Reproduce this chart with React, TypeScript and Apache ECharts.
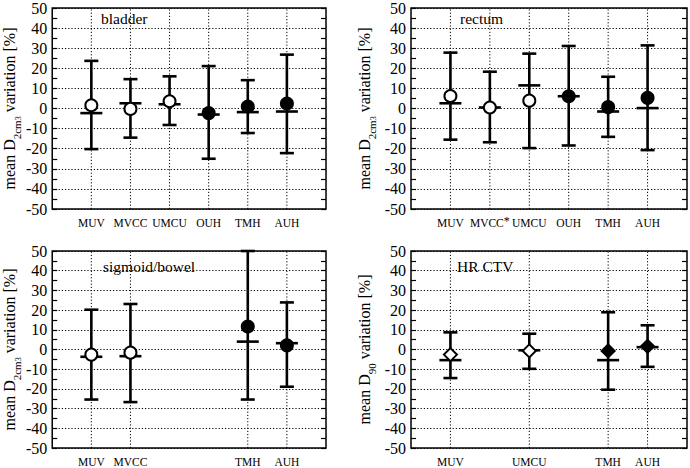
import React, { useEffect, useRef } from "react";
import * as echarts from "echarts";

// ---------- data ----------
const CENTRES = ["MUV", "MVCC", "UMCU", "OUH", "TMH", "AUH"];
const OPEN_CENTRES = ["MUV", "MVCC", "UMCU"];
const Y_MIN = -50;
const Y_MAX = 50;
const Y_STEP = 10;

// bladder (D2cm3)
const bladderCentres = ["MUV", "MVCC", "UMCU", "OUH", "TMH", "AUH"];
const bladderMean = [1.6, -0.2, 3.6, -2.3, 1.0, 2.5];
const bladderMedian = [-2.3, 2.6, 2.1, -3.0, -1.8, -1.5];
const bladderLow = [-20.2, -14.5, -8.2, -25.0, -12.2, -22.2];
const bladderHigh = [23.7, 14.6, 16.0, 21.1, 14.1, 26.8];

// rectum (D2cm3)
const rectumCentres = ["MUV", "MVCC", "UMCU", "OUH", "TMH", "AUH"];
const rectumMean = [6.2, 0.5, 3.9, 6.1, 0.7, 5.3];
const rectumMedian = [2.6, 0.5, 11.5, 6.1, -1.5, 0.2];
const rectumLow = [-15.5, -16.8, -19.7, -18.4, -14.1, -20.7];
const rectumHigh = [27.8, 18.3, 27.3, 31.1, 15.8, 31.4];

// sigmoid/bowel (D2cm3)
const sigmoidCentres = ["MUV", "MVCC", "TMH", "AUH"];
const sigmoidMean = [-2.6, -1.6, 11.7, 2.1];
const sigmoidMedian = [-3.7, -3.4, 4.0, 3.2];
const sigmoidLow = [-25.4, -26.7, -25.4, -18.9];
const sigmoidHigh = [20.2, 23.1, 50, 23.9];

// HR CTV (D90)
const ctvCentres = ["MUV", "UMCU", "TMH", "AUH"];
const ctvMean = [-2.6, -0.7, -0.7, 1.6];
const ctvMedian = [-5.4, -0.4, -5.4, 1.2];
const ctvLow = [-14.5, -9.8, -20.4, -8.8];
const ctvHigh = [8.7, 8.0, 18.9, 12.3];

const ASTERISK_CENTRES_RECTUM = ["MVCC"];

// ---------- style ----------
const FONT = '"Liberation Serif", "Times New Roman", serif';
const BLACK = "#000";

const NAME_D2CM3 = "{m|mean D}{sub|2cm}{sup|3}{m| variation [%]}";
const NAME_D90 = "{m|mean D}{sub|90}{m| variation [%]}";

type Panel = {
  title: string;
  centres: string[];
  mean: number[];
  median: number[];
  low: number[];
  high: number[];
  marker: "circle" | "diamond";
  yName: string;
  starred: string[];
  grid: { left: number; top: number; width: number; height: number };
  titlePos: { left: number; top: number };
  nameGap: number;
};

const panels: Panel[] = [
  {
    title: "bladder",
    centres: bladderCentres,
    mean: bladderMean,
    median: bladderMedian,
    low: bladderLow,
    high: bladderHigh,
    marker: "circle",
    yName: NAME_D2CM3,
    starred: [],
    grid: { left: 50, top: 7, width: 276, height: 202 },
    titlePos: { left: 101, top: 10 },
    nameGap: 30,
  },
  {
    title: "rectum",
    centres: rectumCentres,
    mean: rectumMean,
    median: rectumMedian,
    low: rectumLow,
    high: rectumHigh,
    marker: "circle",
    yName: NAME_D2CM3,
    starred: ASTERISK_CENTRES_RECTUM,
    grid: { left: 411, top: 7, width: 277, height: 202 },
    titlePos: { left: 460, top: 10 },
    nameGap: 34,
  },
  {
    title: "sigmoid/bowel",
    centres: sigmoidCentres,
    mean: sigmoidMean,
    median: sigmoidMedian,
    low: sigmoidLow,
    high: sigmoidHigh,
    marker: "circle",
    yName: NAME_D2CM3,
    starred: [],
    grid: { left: 50, top: 251, width: 276, height: 201 },
    titlePos: { left: 103, top: 258 },
    nameGap: 30,
  },
  {
    title: "HR CTV",
    centres: ctvCentres,
    mean: ctvMean,
    median: ctvMedian,
    low: ctvLow,
    high: ctvHigh,
    marker: "diamond",
    yName: NAME_D90,
    starred: [],
    grid: { left: 411, top: 251, width: 277, height: 201 },
    titlePos: { left: 457, top: 258 },
    nameGap: 34,
  },
];

function buildOption() {
  const grids: any[] = [];
  const xAxes: any[] = [];
  const yAxes: any[] = [];
  const series: any[] = [];
  const titles: any[] = [];

  panels.forEach((p, i) => {
    grids.push({
      ...p.grid,
      containLabel: false,
      show: true,
      borderColor: BLACK,
      borderWidth: 1.5,
      backgroundColor: "transparent",
    });
    titles.push({
      text: p.title,
      left: p.titlePos.left,
      top: p.titlePos.top,
      padding: 0,
      textStyle: { fontFamily: FONT, fontSize: 15.5, fontWeight: "normal", color: BLACK },
    });
    xAxes.push({
      type: "value",
      gridIndex: i,
      min: 0,
      max: CENTRES.length + 1,
      interval: 1,
      axisLine: { show: false },
      axisTick: { show: false },
      splitLine: { show: false },
      axisLabel: {
        margin: 6,
        fontFamily: FONT,
        fontSize: 11.5,
        color: BLACK,
        showMinLabel: true,
        showMaxLabel: true,
        formatter: (v: number) => {
          const name = CENTRES[v - 1];
          if (!name || p.centres.indexOf(name) < 0) return "";
          return p.starred.indexOf(name) >= 0 ? `{c|${name}}{star|*}` : `{c|${name}}`;
        },
        rich: {
          c: { fontFamily: FONT, fontSize: 11.5, color: BLACK, lineHeight: 16 },
          star: {
            fontFamily: FONT,
            fontSize: 12,
            color: BLACK,
            verticalAlign: "top",
            lineHeight: 10,
          },
        },
      },
    });
    const yCommon = {
      type: "value",
      gridIndex: i,
      min: Y_MIN,
      max: Y_MAX,
      interval: Y_STEP,
      axisLine: { show: false },
      axisTick: { show: true, inside: true, length: 5, lineStyle: { color: BLACK, width: 1.2 } },
      minorTick: { show: true, splitNumber: 2, length: 5, lineStyle: { color: BLACK, width: 1.2 } },
    };
    yAxes.push({
      ...yCommon,
      position: "left",
      axisLabel: { fontFamily: FONT, fontSize: 16, color: BLACK, margin: 5 },
      splitLine: { show: true, lineStyle: { color: BLACK, width: 1, type: [1.2, 2] } },
      name: p.yName,
      nameLocation: "middle",
      nameRotate: 90,
      nameGap: p.nameGap,
      nameTextStyle: {
        fontFamily: FONT,
        fontSize: 16,
        color: BLACK,
        rich: {
          m: { fontFamily: FONT, fontSize: 16, color: BLACK, lineHeight: 26 },
          sub: { fontFamily: FONT, fontSize: 11, color: BLACK, verticalAlign: "bottom", lineHeight: 10 },
          sup: { fontFamily: FONT, fontSize: 8, color: BLACK, verticalAlign: "bottom", lineHeight: 21 },
        },
      },
    });
    yAxes.push({
      ...yCommon,
      position: "right",
      axisLabel: { show: false },
      splitLine: { show: false },
    });

    const positions = p.centres.map((c) => CENTRES.indexOf(c) + 1);

    // vertical dotted gridlines at each centre present
    series.push({
      type: "custom",
      xAxisIndex: i,
      yAxisIndex: i * 2,
      z: 1,
      silent: true,
      data: positions.map((x) => [x, Y_MIN, Y_MAX]),
      encode: { x: 0, y: [1, 2] },
      renderItem: (_params: any, api: any) => {
        const a = api.coord([api.value(0), api.value(1)]);
        const b = api.coord([api.value(0), api.value(2)]);
        return {
          type: "line",
          shape: { x1: a[0], y1: a[1], x2: b[0], y2: b[1] },
          style: { stroke: BLACK, lineWidth: 1, lineDash: [1.2, 2] },
        };
      },
    });

    // error bars + median + mean marker
    const rows = p.centres.map((c, k) => [
      positions[k],
      p.mean[k],
      p.median[k],
      p.low[k],
      p.high[k],
      OPEN_CENTRES.indexOf(c) >= 0 ? 1 : 0,
    ]);
    const marker = p.marker;
    series.push({
      type: "custom",
      xAxisIndex: i,
      yAxisIndex: i * 2,
      z: 5,
      clip: false,
      data: rows,
      encode: { x: 0, y: [1, 2, 3, 4] },
      renderItem: (_params: any, api: any) => {
        const x = api.value(0);
        const pm = api.coord([x, api.value(1)]);
        const pmed = api.coord([x, api.value(2)]);
        const plo = api.coord([x, api.value(3)]);
        const phi = api.coord([x, api.value(4)]);
        const open = api.value(5) === 1;
        const st = { stroke: BLACK, lineWidth: 2.6 };
        const cap = 7;
        const med = 11;
        const children: any[] = [
          { type: "line", shape: { x1: plo[0], y1: plo[1], x2: phi[0], y2: phi[1] }, style: st },
          { type: "line", shape: { x1: plo[0] - cap, y1: plo[1], x2: plo[0] + cap, y2: plo[1] }, style: st },
          { type: "line", shape: { x1: phi[0] - cap, y1: phi[1], x2: phi[0] + cap, y2: phi[1] }, style: st },
          { type: "line", shape: { x1: pmed[0] - med, y1: pmed[1], x2: pmed[0] + med, y2: pmed[1] }, style: st },
        ];
        const fill = open ? "#fff" : BLACK;
        if (marker === "circle") {
          children.push({
            type: "circle",
            shape: { cx: pm[0], cy: pm[1], r: 6 },
            style: { fill, stroke: BLACK, lineWidth: 2 },
          });
        } else {
          const r = 6.5;
          children.push({
            type: "polygon",
            shape: {
              points: [
                [pm[0], pm[1] - r],
                [pm[0] + r, pm[1]],
                [pm[0], pm[1] + r],
                [pm[0] - r, pm[1]],
              ],
            },
            style: { fill, stroke: BLACK, lineWidth: 2 },
          });
        }
        return { type: "group", children };
      },
    });
  });

  return {
    animation: false,
    backgroundColor: "#fff",
    title: titles,
    grid: grids,
    xAxis: xAxes,
    yAxis: yAxes,
    series,
  };
}

export default function App() {
  const ref = useRef<HTMLDivElement>(null);
  useEffect(() => {
    document.body.style.margin = "0";
    if (!ref.current) return;
    const chart = echarts.init(ref.current, undefined, { renderer: "svg" });
    chart.setOption(buildOption() as any);
    return () => chart.dispose();
  }, []);
  return <div ref={ref} style={{ width: 690, height: 468, position: "absolute", left: 0, top: 0 }} />;
}
